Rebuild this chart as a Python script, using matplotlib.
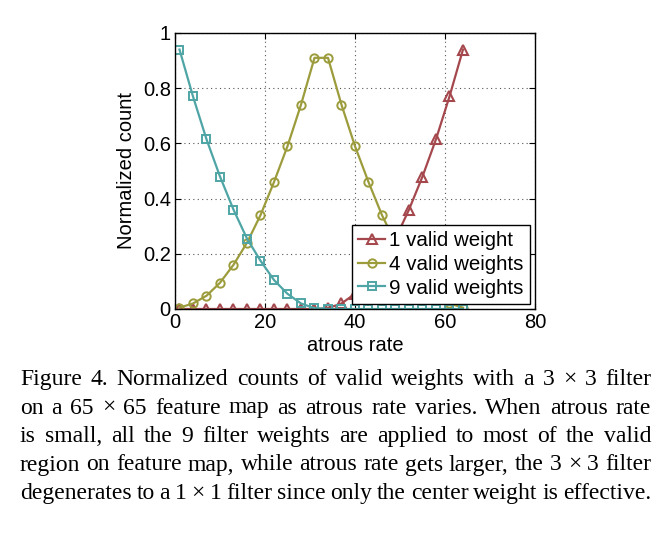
import matplotlib
matplotlib.use('Agg')
import matplotlib.pyplot as plt

# atrous rates
rate = [1, 4, 7, 10, 13, 16, 19, 22, 25, 28, 31, 34, 37, 40, 43, 46, 49, 52, 55, 58, 61, 64]

# normalized counts
one_valid = [0, 0, 0, 0, 0, 0, 0, 0, 0, 0, 0, 0.003,
             0.02, 0.055, 0.105, 0.175, 0.255, 0.36, 0.48, 0.615, 0.77, 0.94]
four_valid = [0.005, 0.02, 0.048, 0.095, 0.16, 0.24, 0.34, 0.46, 0.59, 0.74, 0.91,
              0.91, 0.74, 0.59, 0.46, 0.34, 0.24, 0.16, 0.095, 0.048, 0.02, 0.005]
nine_valid = [0.94, 0.77, 0.615, 0.48, 0.36, 0.255, 0.175, 0.105, 0.055, 0.02, 0.003,
              0, 0, 0, 0, 0, 0, 0, 0, 0, 0, 0]

labels = ['1 valid weight', '4 valid weights', '9 valid weights']

caption = [
    'Figure 4. Normalized counts of valid weights with a 3 \u00d7 3 filter',
    'on a 65 \u00d7 65 feature map as atrous rate varies. When atrous rate',
    'is small, all the 9 filter weights are applied to most of the valid',
    'region on feature map, while atrous rate gets larger, the 3 \u00d7 3 filter',
    'degenerates to a 1 \u00d7 1 filter since only the center weight is effective.',
]

plt.rcParams['font.family'] = 'Liberation Sans'

fig = plt.figure(figsize=(6.71, 5.40), dpi=100)
ax = fig.add_axes([0.2608, 0.4278, 0.5365, 0.5111])

red = '#a5484e'
olive = '#9c9c3c'
teal = '#4fa5a5'

ax.plot(rate, one_valid, color=red, lw=1.6, marker='^', ms=7, mfc='none', mew=1.5, label=labels[0])
ax.plot(rate, four_valid, color=olive, lw=1.6, marker='o', ms=6, mfc='none', mew=1.4, label=labels[1])
ax.plot(rate, nine_valid, color=teal, lw=1.6, marker='s', ms=5.5, mfc='none', mew=1.4, label=labels[2])

ax.set_xlim(0, 80)
ax.set_ylim(0, 1)
ax.set_xticks([0, 20, 40, 60, 80])
ax.set_yticks([0, 0.2, 0.4, 0.6, 0.8, 1])
ax.set_yticklabels(['0', '0.2', '0.4', '0.6', '0.8', '1'])
ax.tick_params(direction='in', top=True, right=True, length=4, labelsize=14.5, pad=3)
ax.grid(True, color='#555555', linestyle=(0, (1, 3)), linewidth=0.8)
for s in ax.spines.values():
    s.set_linewidth(1.0)

ax.set_xlabel('atrous rate', fontsize=14.5, labelpad=3)
ax.set_ylabel('Normalized count', fontsize=14.5, labelpad=5)

leg = ax.legend(loc='lower right', fontsize=14.8, fancybox=False, framealpha=1,
                edgecolor='black', handlelength=1.3, handletextpad=0.2,
                labelspacing=0.24, borderpad=0.3, borderaxespad=0.25)
leg.get_frame().set_linewidth(1.0)

# caption, justified line by line
fig.canvas.draw()
renderer = fig.canvas.get_renderer()
W, H = 671, 540
left_px, right_px = 20, 651
base_y = 385
line_gap = 28.5
for i, line in enumerate(caption):
    words = line.split(' ')
    texts = [fig.text(0, 0, w, fontsize=17, family='Liberation Serif', va='baseline', ha='left')
             for w in words]
    widths = [t.get_window_extent(renderer).width for t in texts]
    gap = (right_px - left_px - sum(widths)) / (len(words) - 1)
    x = left_px
    y = 1 - (base_y + i * line_gap) / H
    for t, w in zip(texts, widths):
        t.set_position((x / W, y))
        x += w + gap

fig.savefig('out.png', dpi=100)
